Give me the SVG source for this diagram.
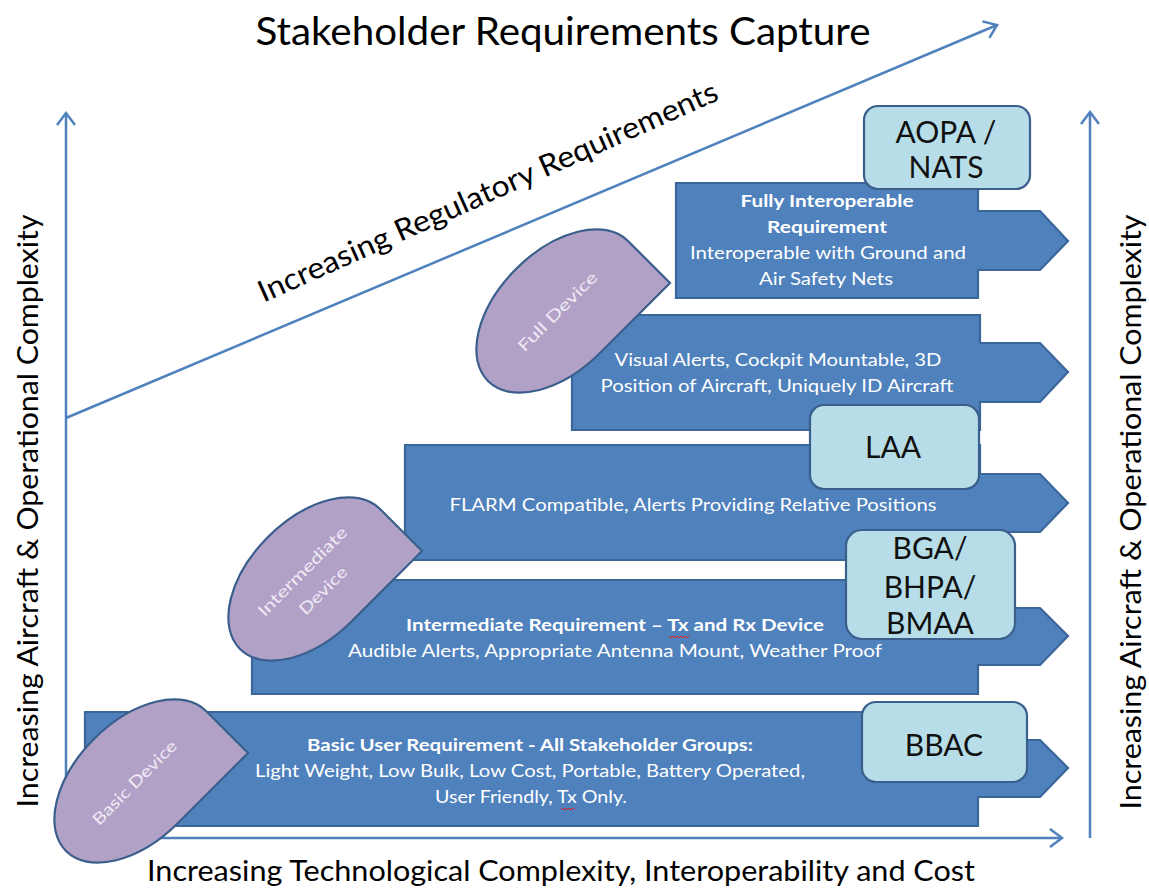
<svg xmlns="http://www.w3.org/2000/svg" xmlns:xlink="http://www.w3.org/1999/xlink" width="1149" height="889" viewBox="0 0 1149 889">
<style>
.bg{fill:#ffffff}
.axis{fill:none;stroke:#4f81bd;stroke-width:2.5}
.arrow{fill:#4f81bd;stroke:#3a669a;stroke-width:2.2;stroke-linejoin:miter}
.leaf{fill:#b2a1c7;stroke:#3a5f8c;stroke-width:2.2}
.box{fill:#b7dee8;stroke:#3a5f8c;stroke-width:2.2}
.t{font-family:Lato,"Liberation Sans",sans-serif}
.big{font-size:39px;fill:#000}
.lab{font-size:28px;fill:#000}
.diag{font-size:30px;fill:#000}
.at{font-size:17px;fill:#ffffff;text-anchor:middle}
.atb{font-size:17px;fill:#ffffff;text-anchor:middle;font-weight:bold}
.bt{font-size:30px;fill:#111;text-anchor:middle}
.lt{font-size:16px;fill:#eeeaf4;text-anchor:middle}
.sq{fill:none;stroke:#e02020;stroke-width:1}
</style>
<defs>
<marker id="chev" markerUnits="userSpaceOnUse" markerWidth="30" markerHeight="30" viewBox="-15 -15 30 30" refX="0" refY="0" orient="auto">
<path d="M-12,-9 L0,0 L-12,9" fill="none" stroke="#4f81bd" stroke-width="2.5"/>
</marker>
<path id="leafShape" d="M0,-99 L59.4,-99 L59.4,0 A59.4 99 0 1 1 0,-99 Z"/>
</defs>
<rect class="bg" x="0" y="0" width="1149" height="889"/>

<g id="connectors">
<line class="axis" x1="66" y1="838" x2="66" y2="113" marker-end="url(#chev)"/>
<line class="axis" x1="66" y1="838" x2="1062" y2="838" marker-end="url(#chev)"/>
<line class="axis" x1="66" y1="418" x2="997" y2="25" marker-end="url(#chev)"/>
<line class="axis" x1="1090" y1="838" x2="1090" y2="112" marker-end="url(#chev)"/>
</g>

<g id="labels">
<text class="t big" x="563" y="45" text-anchor="middle" textLength="615" lengthAdjust="spacingAndGlyphs">Stakeholder Requirements Capture</text>
<text class="t diag" x="0" y="0" text-anchor="middle" transform="translate(492,201) rotate(-24)" textLength="500" lengthAdjust="spacingAndGlyphs">Increasing Regulatory Requirements</text>
<text class="t lab" x="0" y="0" text-anchor="middle" transform="translate(38,511) rotate(-90)" textLength="593" lengthAdjust="spacingAndGlyphs">Increasing Aircraft &amp; Operational Complexity</text>
<text class="t lab" x="0" y="0" text-anchor="middle" transform="translate(1141,512) rotate(-90)" textLength="595" lengthAdjust="spacingAndGlyphs">Increasing Aircraft &amp; Operational Complexity</text>
<text class="t lab" x="561" y="881" text-anchor="middle" textLength="828" lengthAdjust="spacingAndGlyphs">Increasing Technological Complexity, Interoperability and Cost</text>
</g>

<g id="arrow-full">
<path class="arrow" d="M676,183 H978 V211 H1040 L1068,241 L1040,270 H978 V298 H676 Z"/>
<text class="t atb" x="827" y="207" textLength="173" lengthAdjust="spacingAndGlyphs">Fully Interoperable</text>
<text class="t atb" x="827" y="233" textLength="120" lengthAdjust="spacingAndGlyphs">Requirement</text>
<text class="t at" x="828" y="259" textLength="276" lengthAdjust="spacingAndGlyphs">Interoperable with Ground and</text>
<text class="t at" x="826" y="285" textLength="134" lengthAdjust="spacingAndGlyphs">Air Safety Nets</text>
</g>

<g id="arrow-visual">
<path class="arrow" d="M572,315 H980 V343 H1040 L1068,372 L1040,402 H980 V430 H572 Z"/>
<text class="t at" x="778" y="366" textLength="327" lengthAdjust="spacingAndGlyphs">Visual Alerts, Cockpit Mountable, 3D</text>
<text class="t at" x="777" y="392" textLength="353" lengthAdjust="spacingAndGlyphs">Position of Aircraft, Uniquely ID Aircraft</text>
</g>

<g id="arrow-flarm">
<path class="arrow" d="M405,445 H980 V474 H1040 L1068,503 L1040,532 H980 V560 H405 Z"/>
<text class="t at" x="693" y="511" textLength="487" lengthAdjust="spacingAndGlyphs">FLARM Compatible, Alerts Providing Relative Positions</text>
</g>

<g id="arrow-intermediate">
<path class="arrow" d="M252,580 H978 V608 H1040 L1068,636 L1040,665 H978 V694 H252 Z"/>
<text class="t atb" x="615" y="631" textLength="418" lengthAdjust="spacingAndGlyphs">Intermediate Requirement – Tx and Rx Device</text>
<text class="t at" x="615" y="657" textLength="534" lengthAdjust="spacingAndGlyphs">Audible Alerts, Appropriate Antenna Mount, Weather Proof</text>
</g>

<g id="arrow-basic">
<path class="arrow" d="M85,712 H978 V740 H1040 L1068,768 L1040,797 H978 V826 H85 Z"/>
<text class="t atb" x="530" y="751" textLength="446" lengthAdjust="spacingAndGlyphs">Basic User Requirement - All Stakeholder Groups:</text>
<text class="t at" x="530" y="777" textLength="550" lengthAdjust="spacingAndGlyphs">Light Weight, Low Bulk, Low Cost, Portable, Battery Operated,</text>
<text class="t at" x="531" y="803" textLength="192" lengthAdjust="spacingAndGlyphs">User Friendly, Tx Only.</text>
</g>

<g id="spellmarks">
<path class="sq" d="M669,636 l2,2 l2,-2 l2,2 l2,-2 l2,2 l2,-2 l2,2 l2,-2 l2,2 l2,-2"/>
<path class="sq" d="M561,808 l2,2 l2,-2 l2,2 l2,-2 l2,2 l2,-2 l2,2"/>
</g>

<g id="leaf-full">
<use xlink:href="#leafShape" class="leaf" transform="translate(558,311) rotate(45)"/>
<text class="t lt" x="0" y="5" transform="translate(558,312) rotate(-45)" textLength="105" lengthAdjust="spacingAndGlyphs">Full  Device</text>
</g>

<g id="leaf-intermediate">
<use xlink:href="#leafShape" class="leaf" transform="translate(310,579) rotate(45)"/>
<text class="t lt" transform="translate(310,579) rotate(-45)"><tspan x="0" y="-5" textLength="119" lengthAdjust="spacingAndGlyphs">Intermediate</tspan><tspan x="1" y="23" textLength="61" lengthAdjust="spacingAndGlyphs">Device</tspan></text>
</g>

<g id="leaf-basic">
<use xlink:href="#leafShape" class="leaf" transform="translate(136,781) rotate(45)"/>
<text class="t lt" x="0" y="5" transform="translate(135,783) rotate(-45)" textLength="112" lengthAdjust="spacingAndGlyphs">Basic Device</text>
</g>

<g id="box-aopa">
<rect class="box" x="864" y="106" width="166" height="83" rx="14"/>
<text class="t bt" x="946" y="143">AOPA /</text>
<text class="t bt" x="946" y="178">NATS</text>
</g>

<g id="box-laa">
<rect class="box" x="810" y="405" width="169" height="84" rx="14"/>
<text class="t bt" x="893" y="458">LAA</text>
</g>

<g id="box-bga">
<rect class="box" x="846" y="530" width="169" height="109" rx="16"/>
<text class="t bt" x="930" y="559">BGA/</text>
<text class="t bt" x="930" y="598">BHPA/</text>
<text class="t bt" x="930" y="634">BMAA</text>
</g>

<g id="box-bbac">
<rect class="box" x="862" y="702" width="165" height="80" rx="14"/>
<text class="t bt" x="944" y="756">BBAC</text>
</g>
</svg>
